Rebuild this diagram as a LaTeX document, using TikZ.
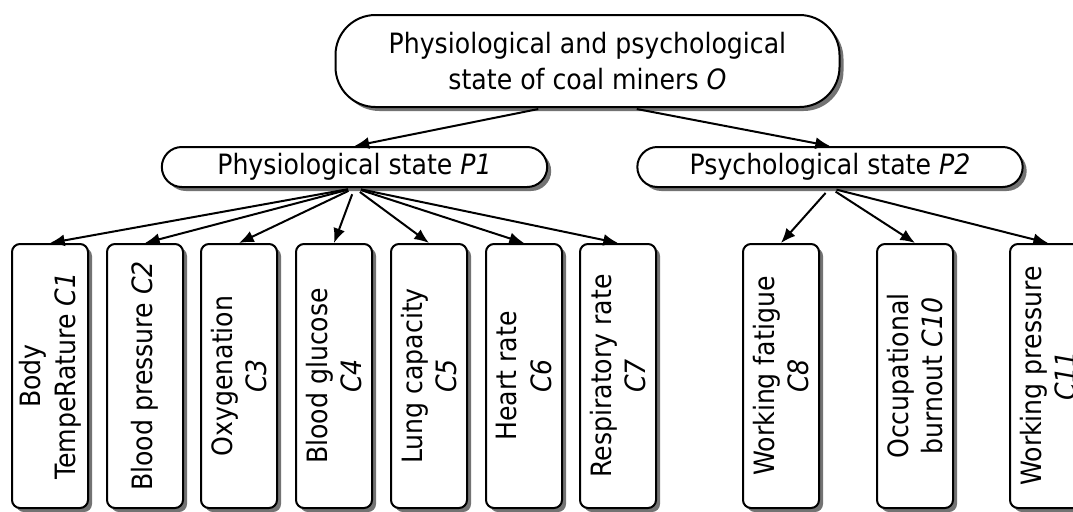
\documentclass[tikz,border=0pt]{standalone}
\usepackage{fontspec}
\setmainfont{DejaVu Sans Condensed}[ItalicFont={DejaVu Sans Condensed Oblique}]
\usetikzlibrary{arrows.meta,shadows}

\tikzset{
  boxline/.style={draw,line width=1.5pt,fill=white,align=center,
    drop shadow={shadow xshift=3pt,shadow yshift=-3pt,fill=black!55,opacity=1}},
  goalbox/.style={boxline,rounded corners=30pt,minimum width=378pt,minimum height=69pt,
    font=\fontsize{21}{27}\selectfont},
  statebox/.style={boxline,rounded corners=15pt,minimum width=289pt,minimum height=30pt,
    font=\fontsize{21}{24}\selectfont},
  critbox/.style={boxline,rotate=90,rounded corners=6pt,minimum width=198pt,minimum height=57pt,
    font=\fontsize{21}{26}\selectfont},
  link/.style={-{Latex[length=11pt,width=9pt]},line width=1.5pt}
}

\begin{document}
\begin{tikzpicture}[x=0.75pt,y=-0.75pt]
\useasboundingbox (0,0) rectangle (1073,511);

% goal
\node[goalbox] (O) at (587.5,61) {Physiological and psychological\\state of coal miners \textit{O}};

% states
\node[statebox] (P1) at (354.5,167) {Physiological state \textit{P1}};
\node[statebox] (P2) at (830,167) {Psychological state \textit{P2}};

% criteria
\node[critbox] (C1) at (50,376) {Body\\TempeRature \textit{C1}};
\node[critbox] (C2) at (145,376) {Blood pressure \textit{C2}};
\node[critbox] (C3) at (239,376) {Oxygenation\\\textit{C3}};
\node[critbox] (C4) at (334,376) {Blood glucose\\\textit{C4}};
\node[critbox] (C5) at (429,376) {Lung capacity\\\textit{C5}};
\node[critbox] (C6) at (524,376) {Heart rate\\\textit{C6}};
\node[critbox] (C7) at (618,376) {Respiratory rate\\\textit{C7}};
\node[critbox] (C8) at (781,376) {Working fatigue\\\textit{C8}};
\node[critbox] (C10) at (915,376) {Occupational\\burnout \textit{C10}};
\node[critbox] (C11) at (1048,376) {Working pressure\\\textit{C11}};

\draw[link,shorten <=4pt] ([xshift=-33pt]O.south) -- (P1.north);
\draw[link,shorten <=4pt] ([xshift=33pt]O.south) -- (P2.north);

\foreach \c in {C1,C2,C3,C4,C5,C6,C7}
  \draw[link,shorten <=5pt] (P1.south) -- (\c.east);
\foreach \c in {C8,C10,C11}
  \draw[link,shorten <=5pt] (P2.south) -- (\c.east);

\end{tikzpicture}
\end{document}
